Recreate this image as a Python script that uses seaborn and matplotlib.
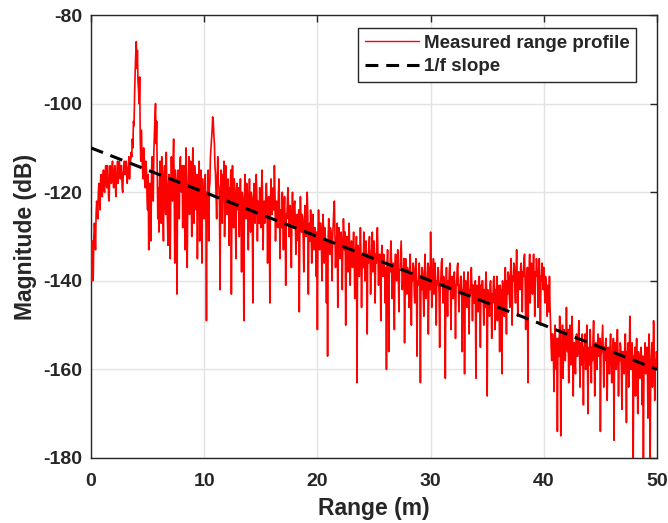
import numpy as np
import pandas as pd
import matplotlib
matplotlib.use("Agg")
import matplotlib.pyplot as plt
import seaborn as sns

# Range profile magnitude (dB), sampled every 0.05 m from 0 to 50 m (one row per metre)
profile_db = [
    -140, -136, -131, -140, -139, -130, -127, -129, -133, -125, -122, -124, -126, -120, -118, -121, -124, -117, -116, -119,
    -121, -117, -115, -119, -120, -116, -114, -118, -119, -114, -116, -121, -122, -117, -114, -116, -118, -115, -113, -117,
    -119, -116, -114, -118, -121, -117, -115, -113, -118, -115, -113, -116, -117, -114, -114, -119, -120, -116, -115, -113,
    -116, -114, -113, -116, -118, -115, -114, -112, -117, -114, -113, -111, -112, -108, -110, -104, -105, -98, -93, -89,
    -86, -92, -88, -95, -97, -100, -94, -108, -113, -106, -111, -115, -117, -110, -112, -118, -119, -113, -115, -121,
    -124, -116, -133, -121, -118, -126, -131, -115, -112, -118, -122, -111, -107, -103, -100, -109, -104, -115, -126, -119,
    -129, -118, -113, -121, -127, -112, -117, -124, -131, -116, -114, -122, -125, -111, -119, -126, -132, -118, -116, -121,
    -135, -119, -112, -117, -122, -113, -108, -120, -136, -115, -118, -124, -143, -117, -115, -121, -126, -114, -112, -119,
    -120, -114, -128, -117, -114, -122, -133, -116, -110, -119, -137, -121, -118, -112, -125, -117, -113, -120, -130, -115,
    -110, -118, -127, -114, -117, -123, -124, -116, -135, -119, -120, -113, -131, -118, -115, -122, -136, -117, -121, -125,
    -126, -118, -116, -124, -149, -120, -122, -115, -131, -119, -118, -112, -110, -108, -106, -103, -104, -107, -109, -114,
    -116, -121, -126, -117, -112, -118, -119, -123, -142, -120, -115, -122, -127, -116, -118, -113, -130, -121, -114, -119,
    -125, -118, -117, -122, -132, -119, -120, -115, -143, -121, -114, -120, -128, -117, -119, -124, -135, -120, -118, -122,
    -124, -119, -130, -121, -117, -123, -138, -120, -121, -125, -149, -122, -116, -121, -126, -118, -120, -124, -133, -121,
    -117, -123, -129, -120, -121, -126, -145, -122, -118, -124, -127, -119, -116, -121, -131, -122, -123, -127, -119, -124,
    -128, -121, -115, -120, -133, -124, -122, -127, -126, -119, -118, -123, -136, -122, -121, -126, -145, -123, -117, -122,
    -125, -121, -119, -124, -114, -120, -131, -123, -122, -127, -128, -121, -117, -122, -135, -124, -124, -128, -120, -125,
    -133, -124, -121, -127, -141, -125, -126, -122, -119, -124, -130, -126, -123, -128, -137, -125, -120, -126, -128, -123,
    -122, -127, -134, -126, -125, -129, -131, -124, -147, -128, -121, -126, -129, -125, -126, -131, -138, -127, -123, -128,
    -130, -126, -120, -125, -143, -128, -127, -131, -124, -129, -136, -127, -125, -130, -133, -128, -128, -132, -139, -129,
    -151, -129, -124, -128, -133, -127, -127, -131, -140, -129, -125, -130, -136, -128, -130, -134, -145, -131, -157, -130,
    -126, -131, -134, -128, -129, -133, -140, -130, -127, -124, -122, -129, -137, -132, -131, -127, -146, -133, -128, -132,
    -135, -131, -129, -134, -142, -132, -126, -130, -133, -129, -150, -133, -130, -134, -138, -131, -127, -133, -141, -134,
    -131, -135, -137, -132, -129, -134, -144, -133, -135, -130, -163, -134, -132, -136, -139, -133, -128, -134, -146, -135,
    -134, -137, -129, -133, -140, -135, -131, -136, -152, -134, -136, -132, -130, -135, -143, -136, -133, -129, -138, -134,
    -131, -136, -145, -134, -136, -131, -128, -135, -141, -137, -134, -138, -149, -135, -132, -137, -139, -134, -135, -139,
    -145, -137, -160, -136, -133, -138, -156, -137, -138, -134, -131, -136, -144, -138, -136, -140, -151, -137, -134, -139,
    -140, -136, -133, -139, -147, -138, -137, -134, -131, -137, -142, -139, -139, -135, -154, -140, -135, -138, -143, -137,
    -138, -141, -146, -137, -134, -140, -150, -139, -140, -136, -137, -142, -145, -138, -135, -141, -157, -140, -141, -137,
    -136, -140, -163, -139, -142, -137, -138, -143, -148, -140, -134, -139, -144, -141, -140, -136, -152, -141, -137, -142,
    -129, -138, -146, -140, -139, -135, -143, -139, -136, -142, -150, -140, -141, -137, -138, -143, -155, -141, -140, -136,
    -135, -141, -145, -139, -140, -144, -162, -141, -137, -142, -148, -140, -142, -138, -136, -141, -151, -140, -139, -143,
    -144, -140, -138, -142, -153, -141, -141, -137, -136, -142, -147, -141, -143, -139, -139, -144, -156, -142, -142, -138,
    -161, -142, -140, -144, -146, -141, -138, -143, -152, -142, -143, -139, -137, -142, -149, -141, -141, -145, -145, -140,
    -162, -143, -141, -145, -147, -142, -139, -144, -155, -141, -144, -140, -140, -145, -150, -142, -146, -141, -138, -143,
    -166, -142, -143, -146, -148, -141, -140, -144, -153, -143, -145, -140, -139, -144, -151, -142, -144, -139, -149, -141,
    -142, -145, -156, -141, -146, -142, -161, -140, -141, -145, -148, -141, -137, -142, -152, -140, -143, -138, -139, -143,
    -146, -139, -135, -141, -150, -139, -140, -136, -137, -142, -145, -138, -133, -139, -148, -138, -138, -141, -142, -137,
    -136, -140, -147, -138, -139, -135, -134, -140, -151, -139, -141, -137, -163, -139, -138, -134, -145, -139, -136, -141,
    -143, -137, -134, -140, -148, -138, -139, -135, -137, -141, -146, -138, -135, -140, -150, -139, -140, -136, -138, -142,
    -137, -141, -145, -139, -140, -144, -148, -141, -143, -147, -139, -146, -150, -155, -158, -152, -152, -157, -165, -154,
    -150, -156, -160, -153, -174, -155, -153, -157, -148, -154, -175, -156, -155, -150, -162, -154, -151, -157, -158, -153,
    -146, -153, -156, -151, -163, -155, -150, -156, -159, -152, -148, -155, -166, -154, -154, -158, -161, -153, -152, -157,
    -157, -153, -149, -155, -164, -154, -155, -159, -152, -156, -168, -155, -156, -152, -160, -156, -150, -155, -170, -156,
    -155, -159, -151, -156, -163, -155, -158, -153, -149, -156, -166, -155, -154, -158, -160, -154, -152, -157, -157, -153,
    -174, -157, -156, -153, -150, -156, -164, -155, -158, -154, -153, -158, -167, -156, -155, -159, -161, -155, -152, -157,
    -163, -156, -157, -153, -176, -156, -154, -159, -160, -155, -151, -156, -166, -157, -158, -154, -155, -160, -169, -156,
    -156, -160, -161, -155, -152, -157, -172, -156, -158, -154, -164, -157, -148, -155, -160, -156, -154, -159, -180, -157,
    -159, -155, -166, -157, -153, -158, -170, -156, -157, -161, -162, -156, -155, -159, -168, -157, -180, -158, -158, -154,
    -161, -157, -155, -159, -171, -156, -152, -157, -180, -158, -158, -154, -164, -157, -149, -155, -167, -158, -160, -156,
    -157,
]
range_m = np.linspace(0, 50, len(profile_db))

# 1/f reference slope end points
slope_range_m = [0, 50]
slope_db = [-110, -160]

x_ticks = [0, 10, 20, 30, 40, 50]
y_ticks = [-180, -160, -140, -120, -100, -80]

sns.set_style("white")
plt.rcParams["font.family"] = ["Liberation Sans", "DejaVu Sans"]
plt.rcParams["font.weight"] = "bold"
plt.rcParams["axes.unicode_minus"] = False

ink = "#262626"

fig = plt.figure(figsize=(6.68, 5.23), dpi=100)
ax = fig.add_axes([91 / 668, 1 - 458 / 523, 566 / 668, 443 / 523])

df_profile = pd.DataFrame({"Range": range_m, "Magnitude": profile_db})
df_slope = pd.DataFrame({"Range": slope_range_m, "Magnitude": slope_db})

sns.lineplot(data=df_profile, x="Range", y="Magnitude", ax=ax, color="#ff0000",
             linewidth=1.2, estimator=None, sort=False,
             label="Measured range profile", zorder=3)
sns.lineplot(data=df_slope, x="Range", y="Magnitude", ax=ax, color="black",
             linewidth=2.2, linestyle=(0, (4.2, 2.6)), estimator=None,
             label="1/f slope", zorder=4)

ax.set_xlim(0, 50)
ax.set_ylim(-180, -80)
ax.set_xticks(x_ticks)
ax.set_yticks(y_ticks)
ax.grid(True, color="#e3e3e3", linewidth=1.0)
ax.set_axisbelow(True)

for side in ["left", "right", "top", "bottom"]:
    ax.spines[side].set_visible(True)
    ax.spines[side].set_color(ink)
    ax.spines[side].set_linewidth(1.0)

ax.tick_params(axis="both", which="both", direction="in", length=5, width=1,
               color=ink, labelcolor=ink, labelsize=14, top=True, right=True)
ax.tick_params(axis="y", pad=6.5)
ax.tick_params(axis="x", pad=10.5)
for lab in ax.get_xticklabels() + ax.get_yticklabels():
    lab.set_fontweight("bold")

ax.set_xlabel("Range (m)", fontsize=16.5, fontweight="bold", color=ink, labelpad=5)
ax.set_ylabel("Magnitude (dB)", fontsize=16.5, fontweight="bold", color=ink, labelpad=4)

leg = ax.legend(loc="upper right", bbox_to_anchor=(0.963, 0.971),
                borderaxespad=0, frameon=True, fancybox=False,
                handlelength=2.9, handletextpad=0.25, borderpad=0.35,
                labelspacing=0.35, prop={"size": 13.5, "weight": "bold"})
leg.get_frame().set_edgecolor(ink)
leg.get_frame().set_linewidth(1.0)
leg.get_frame().set_alpha(1.0)
leg.get_lines()[0].set_linewidth(1.0)

fig.savefig("out.png", dpi=100)
